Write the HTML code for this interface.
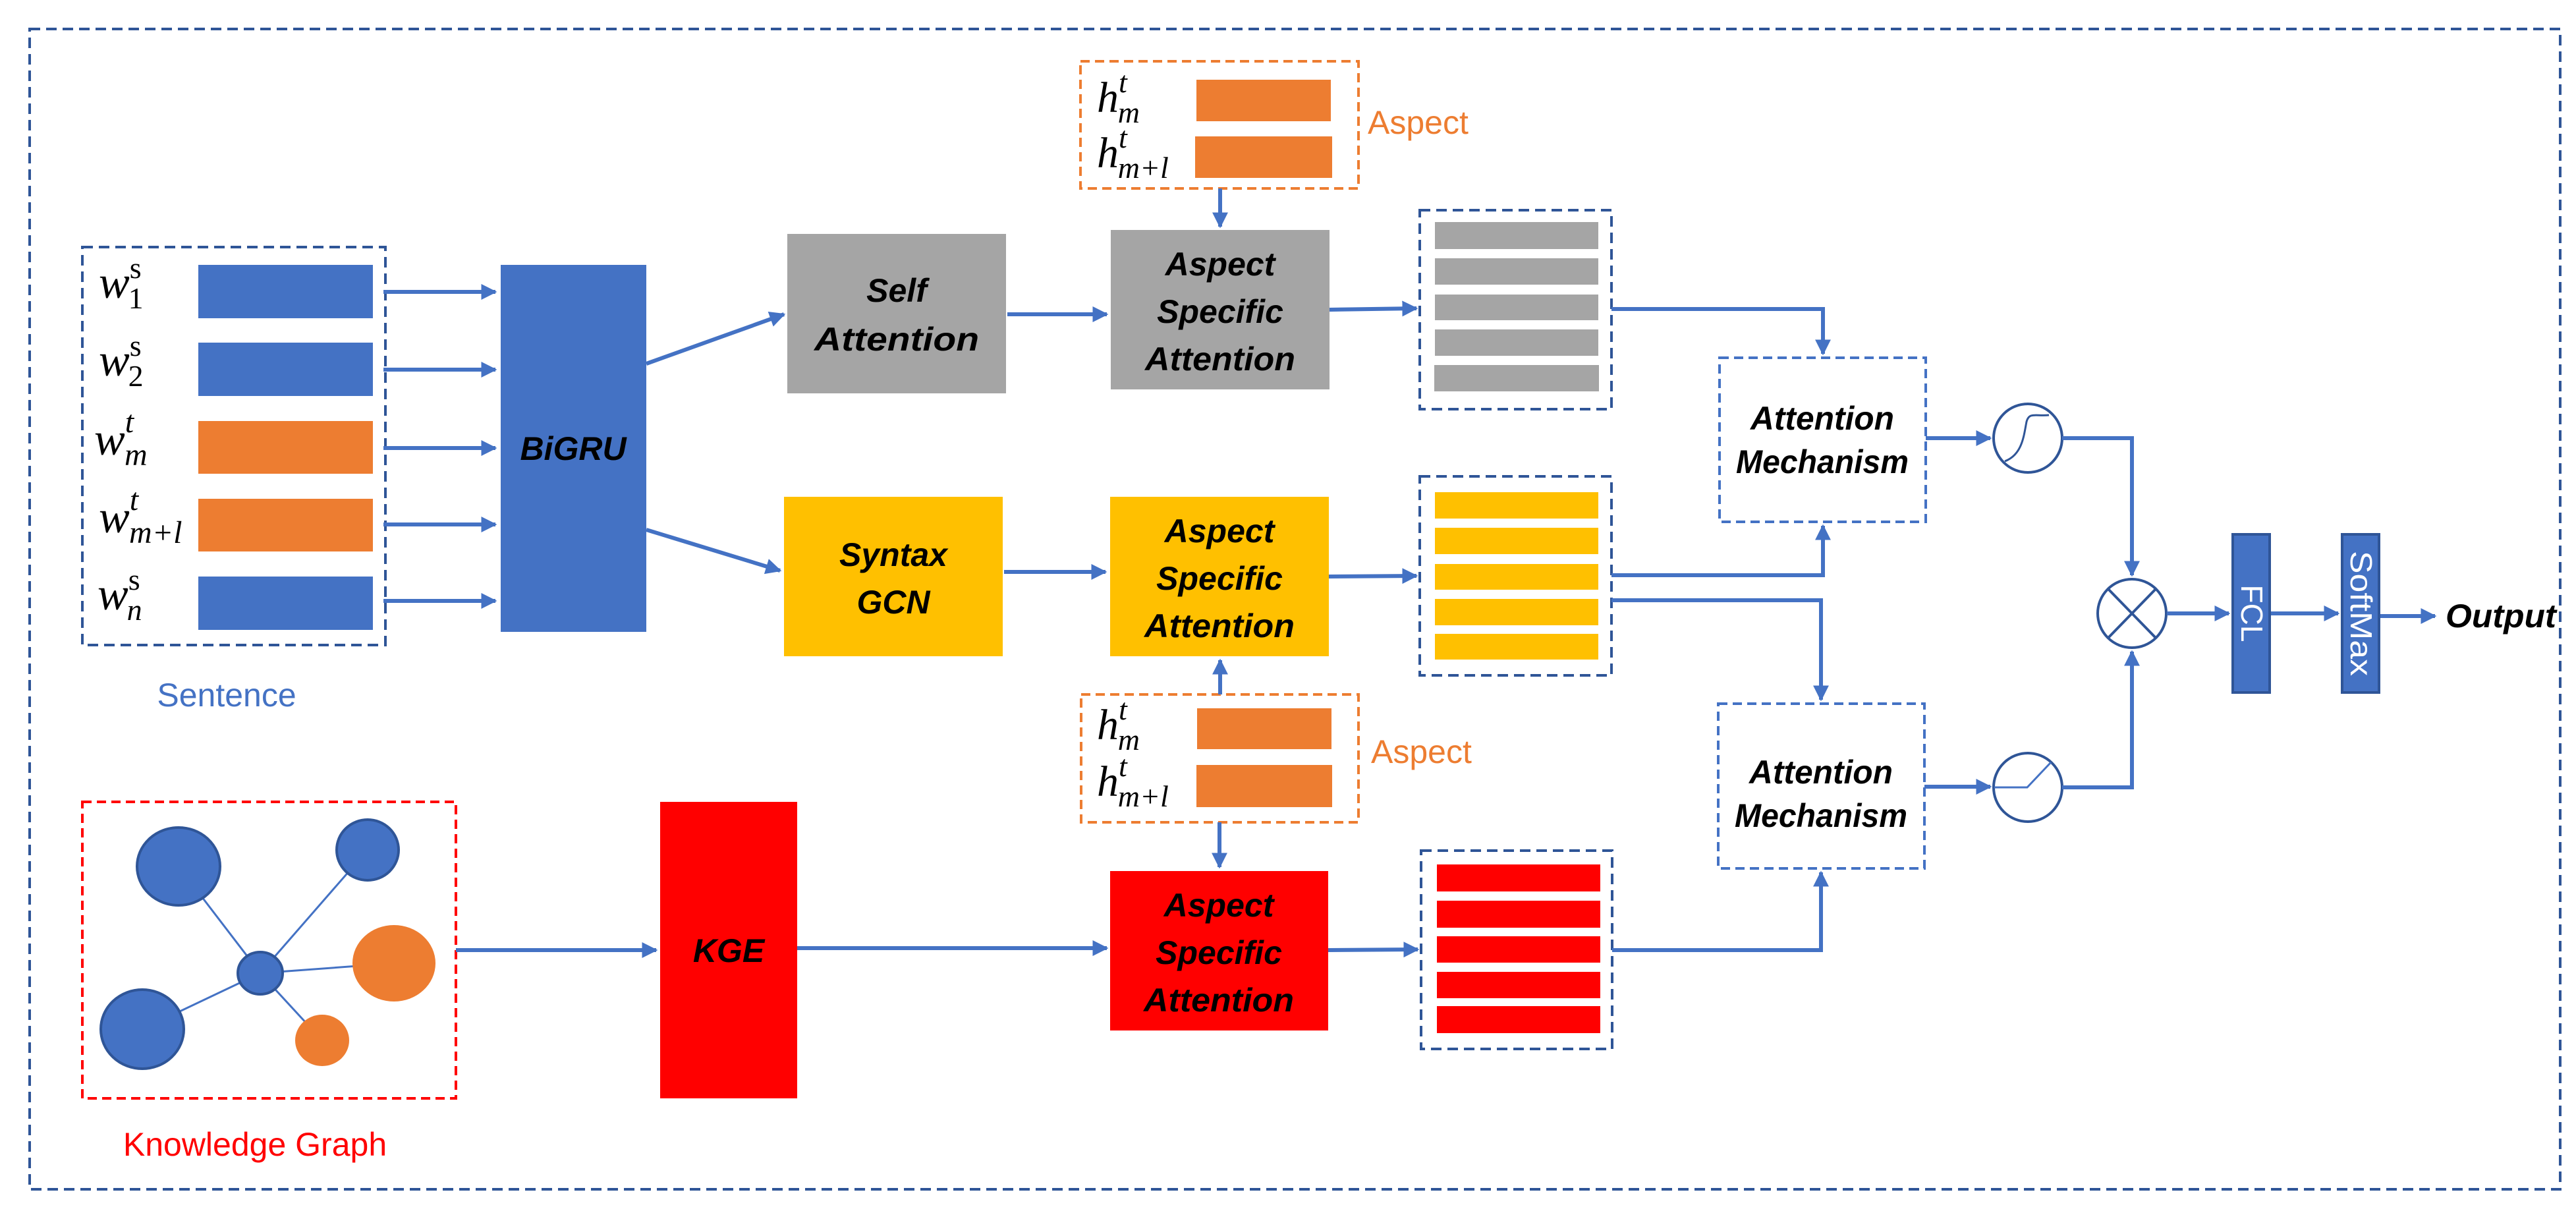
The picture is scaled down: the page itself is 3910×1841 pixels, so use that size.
<!DOCTYPE html>
<html><head><meta charset="utf-8"><style>
html,body{margin:0;padding:0;background:#fff;}
svg{display:block;}
.b{font-family:"Liberation Sans",sans-serif;font-weight:bold;font-style:italic;font-size:50px;fill:#000;text-anchor:middle;}
.m{font-family:"Liberation Serif",serif;font-style:italic;fill:#000;}
</style></head><body>
<svg width="3910" height="1841" viewBox="0 0 3910 1841" xmlns="http://www.w3.org/2000/svg">
<defs>
<marker id="a" viewBox="0 0 10 10" refX="9" refY="5" markerWidth="4" markerHeight="4" orient="auto" markerUnits="strokeWidth"><path d="M0,0 L10,5 L0,10 z" fill="#4472C4"/></marker>
</defs>
<g fill="none" stroke="#2F5597" stroke-width="4" stroke-dasharray="16 9">
<rect x="45" y="44" width="3841" height="1761"/>
<rect x="125" y="375" width="460" height="604"/>
<rect x="2155" y="319" width="291" height="302"/>
<rect x="2155" y="723" width="291" height="302"/>
<rect x="2157" y="1291" width="290" height="301"/>
</g>
<g fill="none" stroke="#4472C4" stroke-width="4" stroke-dasharray="14 8">
<rect x="2610" y="543" width="313" height="249"/>
<rect x="2608" y="1068" width="313" height="250"/>
</g>
<g fill="none" stroke="#ED7D31" stroke-width="4" stroke-dasharray="14 8">
<rect x="1640" y="93" width="422" height="193"/>
<rect x="1641" y="1054" width="421" height="194"/>
</g>
<rect x="125" y="1217" width="567" height="450" fill="none" stroke="#FF0000" stroke-width="4" stroke-dasharray="14 8"/>

<rect x="301" y="402" width="265" height="81" fill="#4472C4"/>
<rect x="301" y="520" width="265" height="81" fill="#4472C4"/>
<rect x="301" y="639" width="265" height="80" fill="#ED7D31"/>
<rect x="301" y="757" width="265" height="80" fill="#ED7D31"/>
<rect x="301" y="875" width="265" height="81" fill="#4472C4"/>
<g class="m" font-size="70">
<text x="150" y="452">w<tspan font-size="46" dy="-30" font-style="normal">s</tspan><tspan font-size="46" dx="-20" dy="46" font-style="normal">1</tspan></text>
<text x="150" y="570">w<tspan font-size="46" dy="-30" font-style="normal">s</tspan><tspan font-size="46" dx="-20" dy="46" font-style="normal">2</tspan></text>
<text x="143" y="690">w<tspan font-size="48" dy="-34">t</tspan><tspan font-size="48" dx="-14" dy="50">m</tspan></text>
<text x="150" y="808">w<tspan font-size="48" dy="-34">t</tspan><tspan font-size="48" dx="-14" dy="50">m+l</tspan></text>
<text x="148" y="925">w<tspan font-size="46" dy="-30" font-style="normal">s</tspan><tspan font-size="46" dx="-20" dy="46">n</tspan></text>
</g>
<text x="344" y="1072" font-family="Liberation Sans,sans-serif" font-size="50" fill="#4472C4" text-anchor="middle">Sentence</text>

<rect x="760" y="402" width="221" height="557" fill="#4472C4"/>
<text x="870" y="698" class="b">BiGRU</text>

<rect x="1195" y="355" width="332" height="242" fill="#A5A5A5"/>
<text class="b" x="1361" y="458">Self</text><text class="b" x="1361" y="532" textLength="250" lengthAdjust="spacingAndGlyphs">Attention</text>
<rect x="1686" y="349" width="332" height="242" fill="#A5A5A5"/>
<text class="b" x="1852" y="418">Aspect</text><text class="b" x="1852" y="490">Specific</text><text class="b" x="1852" y="562" textLength="228" lengthAdjust="spacingAndGlyphs">Attention</text>
<rect x="1190" y="754" width="332" height="242" fill="#FFC000"/>
<text class="b" x="1356" y="859">Syntax</text><text class="b" x="1356" y="931">GCN</text>
<rect x="1685" y="754" width="332" height="242" fill="#FFC000"/>
<text class="b" x="1851" y="823">Aspect</text><text class="b" x="1851" y="895">Specific</text><text class="b" x="1851" y="967" textLength="228" lengthAdjust="spacingAndGlyphs">Attention</text>
<rect x="1685" y="1322" width="331" height="242" fill="#FF0000"/>
<text class="b" x="1850" y="1391">Aspect</text><text class="b" x="1850" y="1463">Specific</text><text class="b" x="1850" y="1535" textLength="228" lengthAdjust="spacingAndGlyphs">Attention</text>
<rect x="1002" y="1217" width="208" height="450" fill="#FF0000"/>
<text class="b" x="1106" y="1460">KGE</text>

<rect x="1816" y="121" width="204" height="63" fill="#ED7D31"/>
<rect x="1814" y="207" width="208" height="63" fill="#ED7D31"/>
<rect x="1817" y="1075" width="204" height="62" fill="#ED7D31"/>
<rect x="1816" y="1161" width="206" height="64" fill="#ED7D31"/>
<g class="m" font-size="66">
<text x="1665" y="170">h<tspan font-size="46" dy="-30">t</tspan><tspan font-size="46" dx="-14" dy="46">m</tspan></text>
<text x="1665" y="254">h<tspan font-size="46" dy="-30">t</tspan><tspan font-size="46" dx="-14" dy="46">m+l</tspan></text>
<text x="1665" y="1122">h<tspan font-size="46" dy="-30">t</tspan><tspan font-size="46" dx="-14" dy="46">m</tspan></text>
<text x="1665" y="1208">h<tspan font-size="46" dy="-30">t</tspan><tspan font-size="46" dx="-14" dy="46">m+l</tspan></text>
</g>
<text x="2076" y="203" font-family="Liberation Sans,sans-serif" font-size="50" fill="#ED7D31">Aspect</text>
<text x="2081" y="1158" font-family="Liberation Sans,sans-serif" font-size="50" fill="#ED7D31">Aspect</text>

<g fill="#A5A5A5">
<rect x="2178" y="337" width="248" height="41"/><rect x="2178" y="392" width="248" height="40"/><rect x="2178" y="447" width="248" height="39"/><rect x="2178" y="500" width="248" height="40"/><rect x="2177" y="554" width="250" height="40"/>
</g>
<g fill="#FFC000">
<rect x="2178" y="747" width="248" height="40"/><rect x="2178" y="801" width="248" height="40"/><rect x="2178" y="856" width="248" height="39"/><rect x="2178" y="909" width="248" height="40"/><rect x="2178" y="962" width="248" height="39"/>
</g>
<g fill="#FF0000">
<rect x="2181" y="1312" width="248" height="41"/><rect x="2181" y="1367" width="248" height="41"/><rect x="2181" y="1421" width="248" height="40"/><rect x="2181" y="1475" width="248" height="40"/><rect x="2181" y="1527" width="248" height="41"/>
</g>

<g stroke="#4472C4" stroke-width="3">
<line x1="395" y1="1477" x2="271" y2="1315"/><line x1="395" y1="1477" x2="558" y2="1290"/>
<line x1="395" y1="1477" x2="598" y2="1462"/><line x1="395" y1="1477" x2="216" y2="1562"/>
<line x1="395" y1="1477" x2="489" y2="1579"/>
</g>
<g fill="#4472C4" stroke="#2F5597" stroke-width="4">
<ellipse cx="271" cy="1315" rx="63" ry="59"/><ellipse cx="558" cy="1290" rx="47" ry="46"/>
<ellipse cx="395" cy="1477" rx="34" ry="32"/><ellipse cx="216" cy="1562" rx="63" ry="60"/>
</g>
<ellipse cx="598" cy="1462" rx="63" ry="58" fill="#ED7D31"/>
<ellipse cx="489" cy="1579" rx="41" ry="39" fill="#ED7D31"/>
<text x="387" y="1754" font-family="Liberation Sans,sans-serif" font-size="50" fill="#FF0000" text-anchor="middle">Knowledge Graph</text>

<text class="b" x="2766" y="652" textLength="218" lengthAdjust="spacingAndGlyphs">Attention</text><text class="b" x="2766" y="718" textLength="262" lengthAdjust="spacingAndGlyphs">Mechanism</text>
<text class="b" x="2764" y="1189" textLength="218" lengthAdjust="spacingAndGlyphs">Attention</text><text class="b" x="2764" y="1255" textLength="262" lengthAdjust="spacingAndGlyphs">Mechanism</text>

<g fill="none" stroke="#2F5597" stroke-width="4">
<circle cx="3078" cy="665" r="52"/>
<circle cx="3078" cy="1195" r="52"/>
<circle cx="3236" cy="931" r="52"/>
<line x1="3200" y1="894" x2="3272" y2="968"/><line x1="3272" y1="894" x2="3200" y2="968"/>
</g>
<path d="M3043,700 C3070,690 3072,660 3076,640 C3080,625 3090,632 3110,630" fill="none" stroke="#2F5597" stroke-width="3"/>
<path d="M3027,1195 L3077,1195 L3113,1157" fill="none" stroke="#4472C4" stroke-width="3"/>

<rect x="3389" y="811" width="56" height="240" fill="#4472C4" stroke="#2F5597" stroke-width="4"/>
<rect x="3555" y="811" width="56" height="240" fill="#4472C4" stroke="#2F5597" stroke-width="4"/>
<text transform="translate(3402,931) rotate(90)" font-family="Liberation Sans,sans-serif" font-size="46" fill="#fff" text-anchor="middle">FCL</text>
<text transform="translate(3568,931) rotate(90)" font-family="Liberation Sans,sans-serif" font-size="46" fill="#fff" text-anchor="middle" textLength="190" lengthAdjust="spacingAndGlyphs">SoftMax</text>
<text x="3712" y="952" font-family="Liberation Sans,sans-serif" font-weight="bold" font-style="italic" font-size="50" textLength="168" lengthAdjust="spacingAndGlyphs">Output</text>

<g fill="none" stroke="#4472C4" stroke-width="6" marker-end="url(#a)">
<line x1="582" y1="443" x2="752" y2="443"/>
<line x1="582" y1="561" x2="752" y2="561"/>
<line x1="582" y1="680" x2="752" y2="680"/>
<line x1="582" y1="796" x2="752" y2="796"/>
<line x1="582" y1="912" x2="752" y2="912"/>
<line x1="981" y1="552" x2="1190" y2="477"/>
<line x1="981" y1="804" x2="1184" y2="866"/>
<line x1="1529" y1="477" x2="1680" y2="477"/>
<line x1="1524" y1="868" x2="1678" y2="868"/>
<line x1="1852" y1="286" x2="1852" y2="344"/>
<line x1="1852" y1="1054" x2="1852" y2="1002"/>
<line x1="1851" y1="1248" x2="1851" y2="1316"/>
<line x1="2018" y1="470" x2="2150" y2="468"/>
<line x1="2017" y1="875" x2="2150" y2="874"/>
<line x1="2016" y1="1442" x2="2152" y2="1441"/>
<line x1="692" y1="1442" x2="996" y2="1442"/>
<line x1="1210" y1="1439" x2="1680" y2="1439"/>
<polyline points="2446,469 2767,469 2767,537"/>
<polyline points="2446,873 2767,873 2767,798"/>
<polyline points="2446,911 2764,911 2764,1062"/>
<polyline points="2447,1442 2764,1442 2764,1324"/>
<line x1="2923" y1="665" x2="3021" y2="665"/>
<line x1="2921" y1="1194" x2="3021" y2="1194"/>
<polyline points="3130,665 3236,665 3236,873"/>
<polyline points="3130,1195 3236,1195 3236,989"/>
<line x1="3289" y1="931" x2="3383" y2="931"/>
<line x1="3447" y1="931" x2="3549" y2="931"/>
<line x1="3613" y1="935" x2="3696" y2="935"/>
</g>
</svg>
</body></html>
